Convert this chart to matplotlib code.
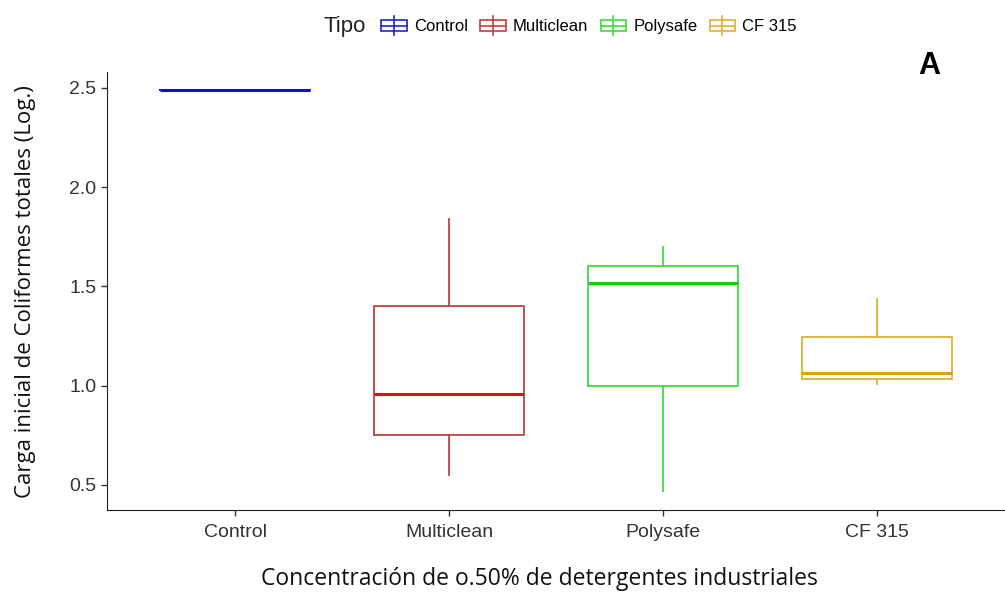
import matplotlib.pyplot as plt
from matplotlib.legend_handler import HandlerBase
from matplotlib.patches import Rectangle
from matplotlib.lines import Line2D

categories = ['Control', 'Multiclean', 'Polysafe', 'CF 315']
whislo = [2.49, 0.55, 0.47, 1.01]
q1 = [2.49, 0.75, 1.00, 1.035]
med = [2.49, 0.96, 1.515, 1.065]
q3 = [2.49, 1.40, 1.605, 1.245]
whishi = [2.49, 1.84, 1.70, 1.435]
colors = ['#2222c8', '#c04040', '#3ddc3d', '#e0b030']
median_colors = ['#1010d0', '#d01818', '#18cc18', '#e0a010']


class BoxHandler(HandlerBase):
    def create_artists(self, legend, orig_handle, xdescent, ydescent,
                       width, height, fontsize, trans):
        c = orig_handle.get_color()
        w = width * 0.85
        x0 = xdescent + (width - w) / 2
        rect = Rectangle((x0, height * 0.05), w, height * 0.9,
                         fill=False, edgecolor=c, lw=1.2, transform=trans)
        mid = Line2D([x0, x0 + w], [height * 0.5] * 2, color=c, lw=1.2, transform=trans)
        wh = Line2D([width / 2] * 2, [-height * 0.3, height * 1.3], color=c, lw=1.2,
                    transform=trans)
        return [wh, rect, mid]


fig = plt.figure(figsize=(10.05, 5.97), dpi=100)
ax = fig.add_axes([0.1065, 0.1457, 0.8935, 0.7337])

stats = []
for i in range(len(categories)):
    stats.append({'label': categories[i], 'whislo': whislo[i], 'q1': q1[i],
                  'med': med[i], 'q3': q3[i], 'whishi': whishi[i], 'fliers': []})

for i, s in enumerate(stats):
    ax.bxp([s], positions=[i], widths=0.7, showfliers=False, showcaps=False,
           boxprops=dict(color=colors[i], lw=1.3),
           whiskerprops=dict(color=colors[i], lw=1.3),
           medianprops=dict(color=median_colors[i], lw=2.2))

ax.set_xlim(-0.6, 3.6)
ax.set_ylim(0.374, 2.58)
ax.set_xticks(range(len(categories)))
ax.set_xticklabels(categories)
ax.set_yticks([0.5, 1.0, 1.5, 2.0, 2.5])
ax.set_yticklabels(['0.5', '1.0', '1.5', '2.0', '2.5'])
for lab in ax.get_xticklabels() + ax.get_yticklabels():
    lab.set_family('Liberation Sans')
    lab.set_fontsize(14)
    lab.set_color('#333333')
ax.tick_params(axis='both', length=4, width=1, color='#333333')
ax.tick_params(axis='x', pad=6)
ax.spines['top'].set_visible(False)
ax.spines['right'].set_visible(False)
ax.spines['left'].set_color('#222222')
ax.spines['bottom'].set_color('#222222')

fig.text(0.025, 0.511, 'Carga inicial de Coliformes totales (Log.)', family='Open Sans',
         fontsize=16, color='#111111', rotation=90, ha='center', va='center')
fig.text(0.537, 0.03, 'Concentración de o.50% de detergentes industriales',
         family='Open Sans', fontsize=16.5, ha='center', va='center', color='#111111')

fig.text(0.925, 0.89, 'A', fontsize=22, fontweight='bold', family='Liberation Sans',
         ha='center', va='center')

handles = [Line2D([], [], color=c) for c in colors]
fig.text(0.322, 0.955, 'Tipo', family='Liberation Sans', fontsize=16,
         color='#222222', va='center')
fig.legend(handles, categories, handler_map={Line2D: BoxHandler()},
           loc='center', bbox_to_anchor=(0.585, 0.955), ncol=4, frameon=False,
           prop={'family': 'Liberation Sans', 'size': 12}, handlelength=1.8,
           handletextpad=0.3, columnspacing=0.6)

fig.savefig('out.png', dpi=100)
